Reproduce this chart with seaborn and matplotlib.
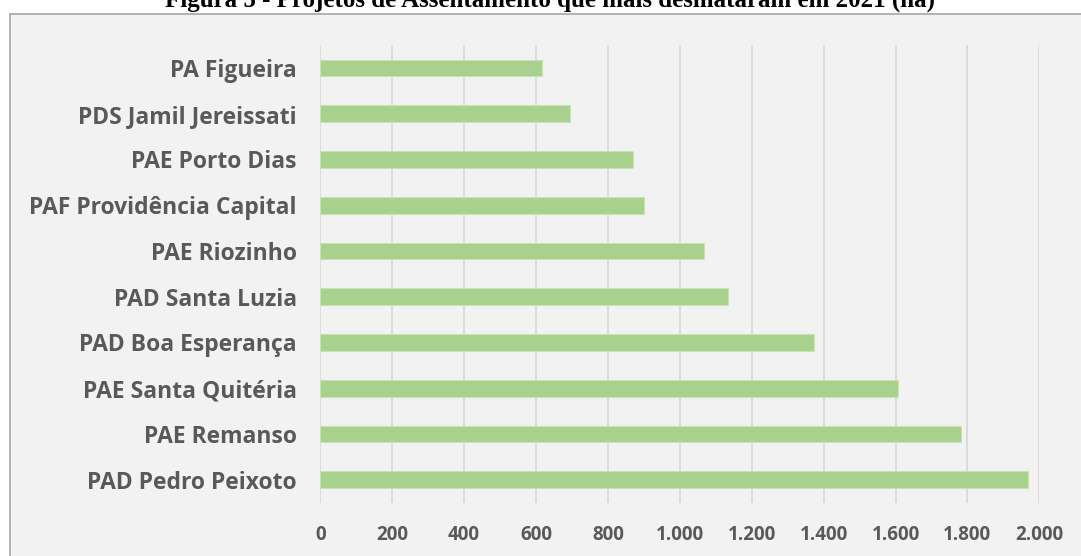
import matplotlib
matplotlib.use("Agg")
import matplotlib.pyplot as plt
import seaborn as sns
import pandas as pd
from matplotlib.patches import Rectangle

categories = ["PA Figueira", "PDS Jamil Jereissati", "PAE Porto Dias",
              "PAF Providência Capital", "PAE Riozinho", "PAD Santa Luzia",
              "PAD Boa Esperança", "PAE Santa Quitéria", "PAE Remanso",
              "PAD Pedro Peixoto"]
values = [617, 695, 869, 901, 1066, 1134, 1372, 1606, 1781, 1969]
xticks = [0, 200, 400, 600, 800, 1000, 1200, 1400, 1600, 1800, 2000]
xtick_labels = ["0", "200", "400", "600", "800", "1.000", "1.200", "1.400",
                "1.600", "1.800", "2.000"]
title = "Figura 5 - Projetos de Assentamento que mais desmataram em 2021 (ha)"

sns.set_theme(style="white")
plt.rcParams["font.family"] = ["Open Sans", "DejaVu Sans"]

W, H = 1081, 556
fig = plt.figure(figsize=(W / 100, H / 100), dpi=100)
fig.patch.set_facecolor("white")

# chart frame
frame = Rectangle((10 / W, -0.05), 1.1, 1 - 14.5 / H + 0.05,
                  transform=fig.transFigure, facecolor="#f2f2f2",
                  edgecolor="#a6a6a6", linewidth=1.2, zorder=-10)
fig.patches.append(frame)

ax = fig.add_axes([320.3 / W, 1 - 502.6 / H, (1039.3 - 320.3) / W,
                   (502.6 - 45) / H])
ax.set_zorder(1)
ax.set_facecolor("#f2f2f2")

df = pd.DataFrame({"cat": categories, "val": values})
sns.barplot(data=df, y="cat", x="val", orient="h", color="#a9d18e",
            saturation=1, width=0.365, edgecolor="#c9e2b8", linewidth=0.8,
            ax=ax, zorder=3)

ax.set_xlim(0, 2000)
ax.set_ylim(len(categories) - 0.5, -0.5)
ax.set_xticks(xticks)
ax.set_xticklabels(xtick_labels)
ax.grid(axis="x", color="#d9d9d9", linewidth=1.3, zorder=0)
ax.set_axisbelow(True)
for s in ax.spines.values():
    s.set_visible(False)
ax.set_xlabel("")
ax.set_ylabel("")
ax.tick_params(axis="both", length=0)
ax.tick_params(axis="x", pad=16, labelsize=13.5, labelcolor="#595959")
ax.tick_params(axis="y", pad=17, labelsize=16.5, labelcolor="#595959")
for lab in ax.get_xticklabels() + ax.get_yticklabels():
    lab.set_fontweight("bold")

fig.text(550 / W, 1 - 6.5 / H, title, ha="center", va="baseline",
         fontsize=18, fontweight="bold", color="black",
         family=["Liberation Serif", "DejaVu Serif"])

fig.savefig("out.png", dpi=100)
